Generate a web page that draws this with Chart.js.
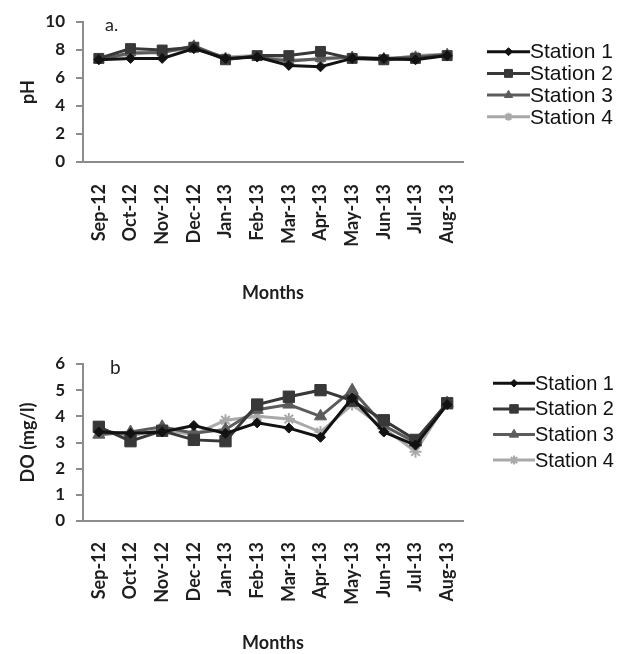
<!DOCTYPE html>
<html><head><meta charset="utf-8">
<script src="https://cdn.jsdelivr.net/npm/chart.js@4.4.0/dist/chart.umd.min.js"></script>
<style>
html,body{margin:0;padding:0;background:#fff;}
#wrap{position:relative;width:619px;height:654px;}
.c{position:absolute;left:0;width:619px;}
</style></head><body>
<div id="wrap">
<div class="c" style="top:0;height:320px"><canvas id="ca"></canvas></div>
<div class="c" style="top:320px;height:334px"><canvas id="cb"></canvas></div>
</div>
<script>
// ---- data ----
const months = ['Sep-12','Oct-12','Nov-12','Dec-12','Jan-13','Feb-13','Mar-13','Apr-13','May-13','Jun-13','Jul-13','Aug-13'];
const stationNames = ['Station 1','Station 2','Station 3','Station 4'];

const phStation1 = [7.3, 7.4, 7.4, 8.1, 7.4, 7.5, 6.9, 6.8, 7.4, 7.4, 7.3, 7.6];
const phStation2 = [7.4, 8.1, 8.0, 8.2, 7.3, 7.6, 7.6, 7.9, 7.4, 7.3, 7.4, 7.6];
const phStation3 = [7.3, 7.8, 7.8, 8.3, 7.4, 7.5, 7.2, 7.4, 7.5, 7.4, 7.5, 7.7];
const phStation4 = [7.4, 7.7, 7.9, 8.1, 7.5, 7.6, 7.3, 7.3, 7.5, 7.3, 7.6, 7.7];

const doStation1 = [3.4, 3.35, 3.4, 3.65, 3.35, 3.75, 3.55, 3.2, 4.7, 3.4, 2.9, 4.45];
const doStation2 = [3.6, 3.05, 3.45, 3.1, 3.05, 4.45, 4.75, 5.0, 4.6, 3.85, 3.1, 4.5];
const doStation3 = [3.3, 3.4, 3.6, 3.35, 3.5, 4.25, 4.45, 4.0, 5.0, 3.65, 3.0, 4.5];
const doStation4 = [3.5, 3.25, 3.5, 3.3, 3.85, 4.0, 3.9, 3.4, 4.45, 3.55, 2.65, 4.55];

const phTicks = [0, 2, 4, 6, 8, 10];
const doTicks = [0, 1, 2, 3, 4, 5, 6];

// ---- styles ----
const seriesColors = ['#121212', '#383838', '#5c5c5c', '#a9a9a9'];
const seriesMarkers = ['rectRot', 'rect', 'triangle', 'star'];

const FONT = 'Lato, "Open Sans", sans-serif';
const AXIS_COLOR = '#8c8c8c';

function makeDatasets(series, radii) {
  return series.map((vals, i) => ({
    label: stationNames[i],
    data: vals,
    borderColor: seriesColors[i],
    backgroundColor: seriesColors[i],
    pointBackgroundColor: seriesColors[i],
    pointBorderColor: seriesColors[i],
    pointStyle: seriesMarkers[i],
    pointRadius: radii[i],
    pointBorderWidth: i === 3 ? 2 : 1,
    borderWidth: 3,
    tension: 0,
    fill: false
  }));
}

const sideLegend = {
  id: 'sideLegend',
  afterDraw(chart, args, opts) {
    const ctx = chart.ctx;
    const area = chart.chartArea;
    chart.data.datasets.forEach((ds, i) => {
      const y = opts.y0 + i * opts.dy;
      const x0 = area.right + opts.dx;
      const x1 = x0 + opts.len;
      ctx.save();
      ctx.strokeStyle = ds.borderColor;
      ctx.lineWidth = ds.borderWidth;
      ctx.beginPath(); ctx.moveTo(x0, y); ctx.lineTo(x1, y); ctx.stroke();
      ctx.fillStyle = ds.pointBackgroundColor;
      ctx.strokeStyle = ds.pointBorderColor;
      ctx.lineWidth = ds.pointBorderWidth;
      Chart.helpers.drawPoint(ctx, {pointStyle: ds.pointStyle, radius: ds.pointRadius * opts.markerScale, borderWidth: ds.pointBorderWidth, rotation: 0}, (x0 + x1) / 2, y);
      ctx.fillStyle = '#111';
      ctx.font = opts.font;
      ctx.textBaseline = 'middle';
      ctx.textAlign = 'left';
      ctx.fillText(ds.label, x1, y + 1);
      ctx.restore();
    });
  }
};

const panelLabel = {
  id: 'panelLabel',
  afterDraw(chart, args, opts) {
    const ctx = chart.ctx;
    const area = chart.chartArea;
    ctx.save();
    ctx.fillStyle = '#222';
    ctx.font = opts.font;
    ctx.textBaseline = 'middle';
    ctx.textAlign = 'left';
    ctx.fillText(opts.text, area.left + opts.dx, area.top + opts.dy);
    ctx.restore();
  }
};

function makeChart(id, series, cfg) {
  return new Chart(document.getElementById(id), {
    type: 'line',
    data: { labels: months, datasets: makeDatasets(series, cfg.radii) },
    options: {
      responsive: true,
      maintainAspectRatio: false,
      animation: false,
      layout: { padding: { left: 17, top: cfg.top, right: 156, bottom: 0 } },
      plugins: {
        legend: { display: false },
        tooltip: { enabled: false },
        sideLegend: cfg.legend,
        panelLabel: cfg.label
      },
      scales: {
        x: {
          type: 'category',
          offset: true,
          grid: { display: false, drawTicks: false },
          border: { display: true, color: AXIS_COLOR, width: 2 },
          ticks: { autoSkip: false, minRotation: 90, maxRotation: 90, padding: cfg.xPad, color: '#1e1e1e',
                   font: { family: FONT, size: 18, weight: 'bold' } },
          title: { display: true, text: 'Months', color: '#1e1e1e', padding: { top: 0, bottom: cfg.titleBottom },
                   font: { family: FONT, size: 18, weight: 'bold' } },
          afterFit(s) { s.height = cfg.xHeight; }
        },
        y: {
          min: cfg.ticks[0],
          max: cfg.ticks[cfg.ticks.length - 1],
          afterBuildTicks(s) { s.ticks = cfg.ticks.map(v => ({ value: v })); },
          grid: { drawOnChartArea: false, drawTicks: true, tickLength: 7, color: AXIS_COLOR, lineWidth: 2 },
          border: { display: true, color: AXIS_COLOR, width: 2 },
          ticks: { padding: 11, color: '#1e1e1e', font: { family: FONT, size: 17, weight: 'bold' } },
          title: { display: true, text: cfg.yTitle, color: '#1e1e1e', padding: { top: 0, bottom: 0 },
                   font: { family: FONT, size: 18, weight: 'bold' } },
          afterFit(s) { s.width = 66; }
        }
      }
    },
    plugins: [sideLegend, panelLabel]
  });
}

makeChart('ca', [phStation1, phStation2, phStation3, phStation4], {
  top: 22, xHeight: 158, xPad: 22, titleBottom: 16, yTitle: 'pH', ticks: phTicks,
  radii: [5, 7, 6, 5],
  legend: { dx: 24, len: 43, y0: 51.7, dy: 21.7, markerScale: 0.8, font: '21px "Liberation Sans", Arial, sans-serif' },
  label: { text: 'a.', dx: 22, dy: 3, font: '18px ' + FONT }
});

makeChart('cb', [doStation1, doStation2, doStation3, doStation4], {
  top: 44, xHeight: 133, xPad: 21, titleBottom: 0.5, yTitle: 'DO (mg/l)', ticks: doTicks,
  radii: [5, 8, 7, 6],
  legend: { dx: 30, len: 42, y0: 63.3, dy: 25.6, markerScale: 0.75, font: '20px "Liberation Sans", Arial, sans-serif' },
  label: { text: 'b', dx: 27, dy: 4, font: '19px ' + FONT }
});
</script>
</body></html>
